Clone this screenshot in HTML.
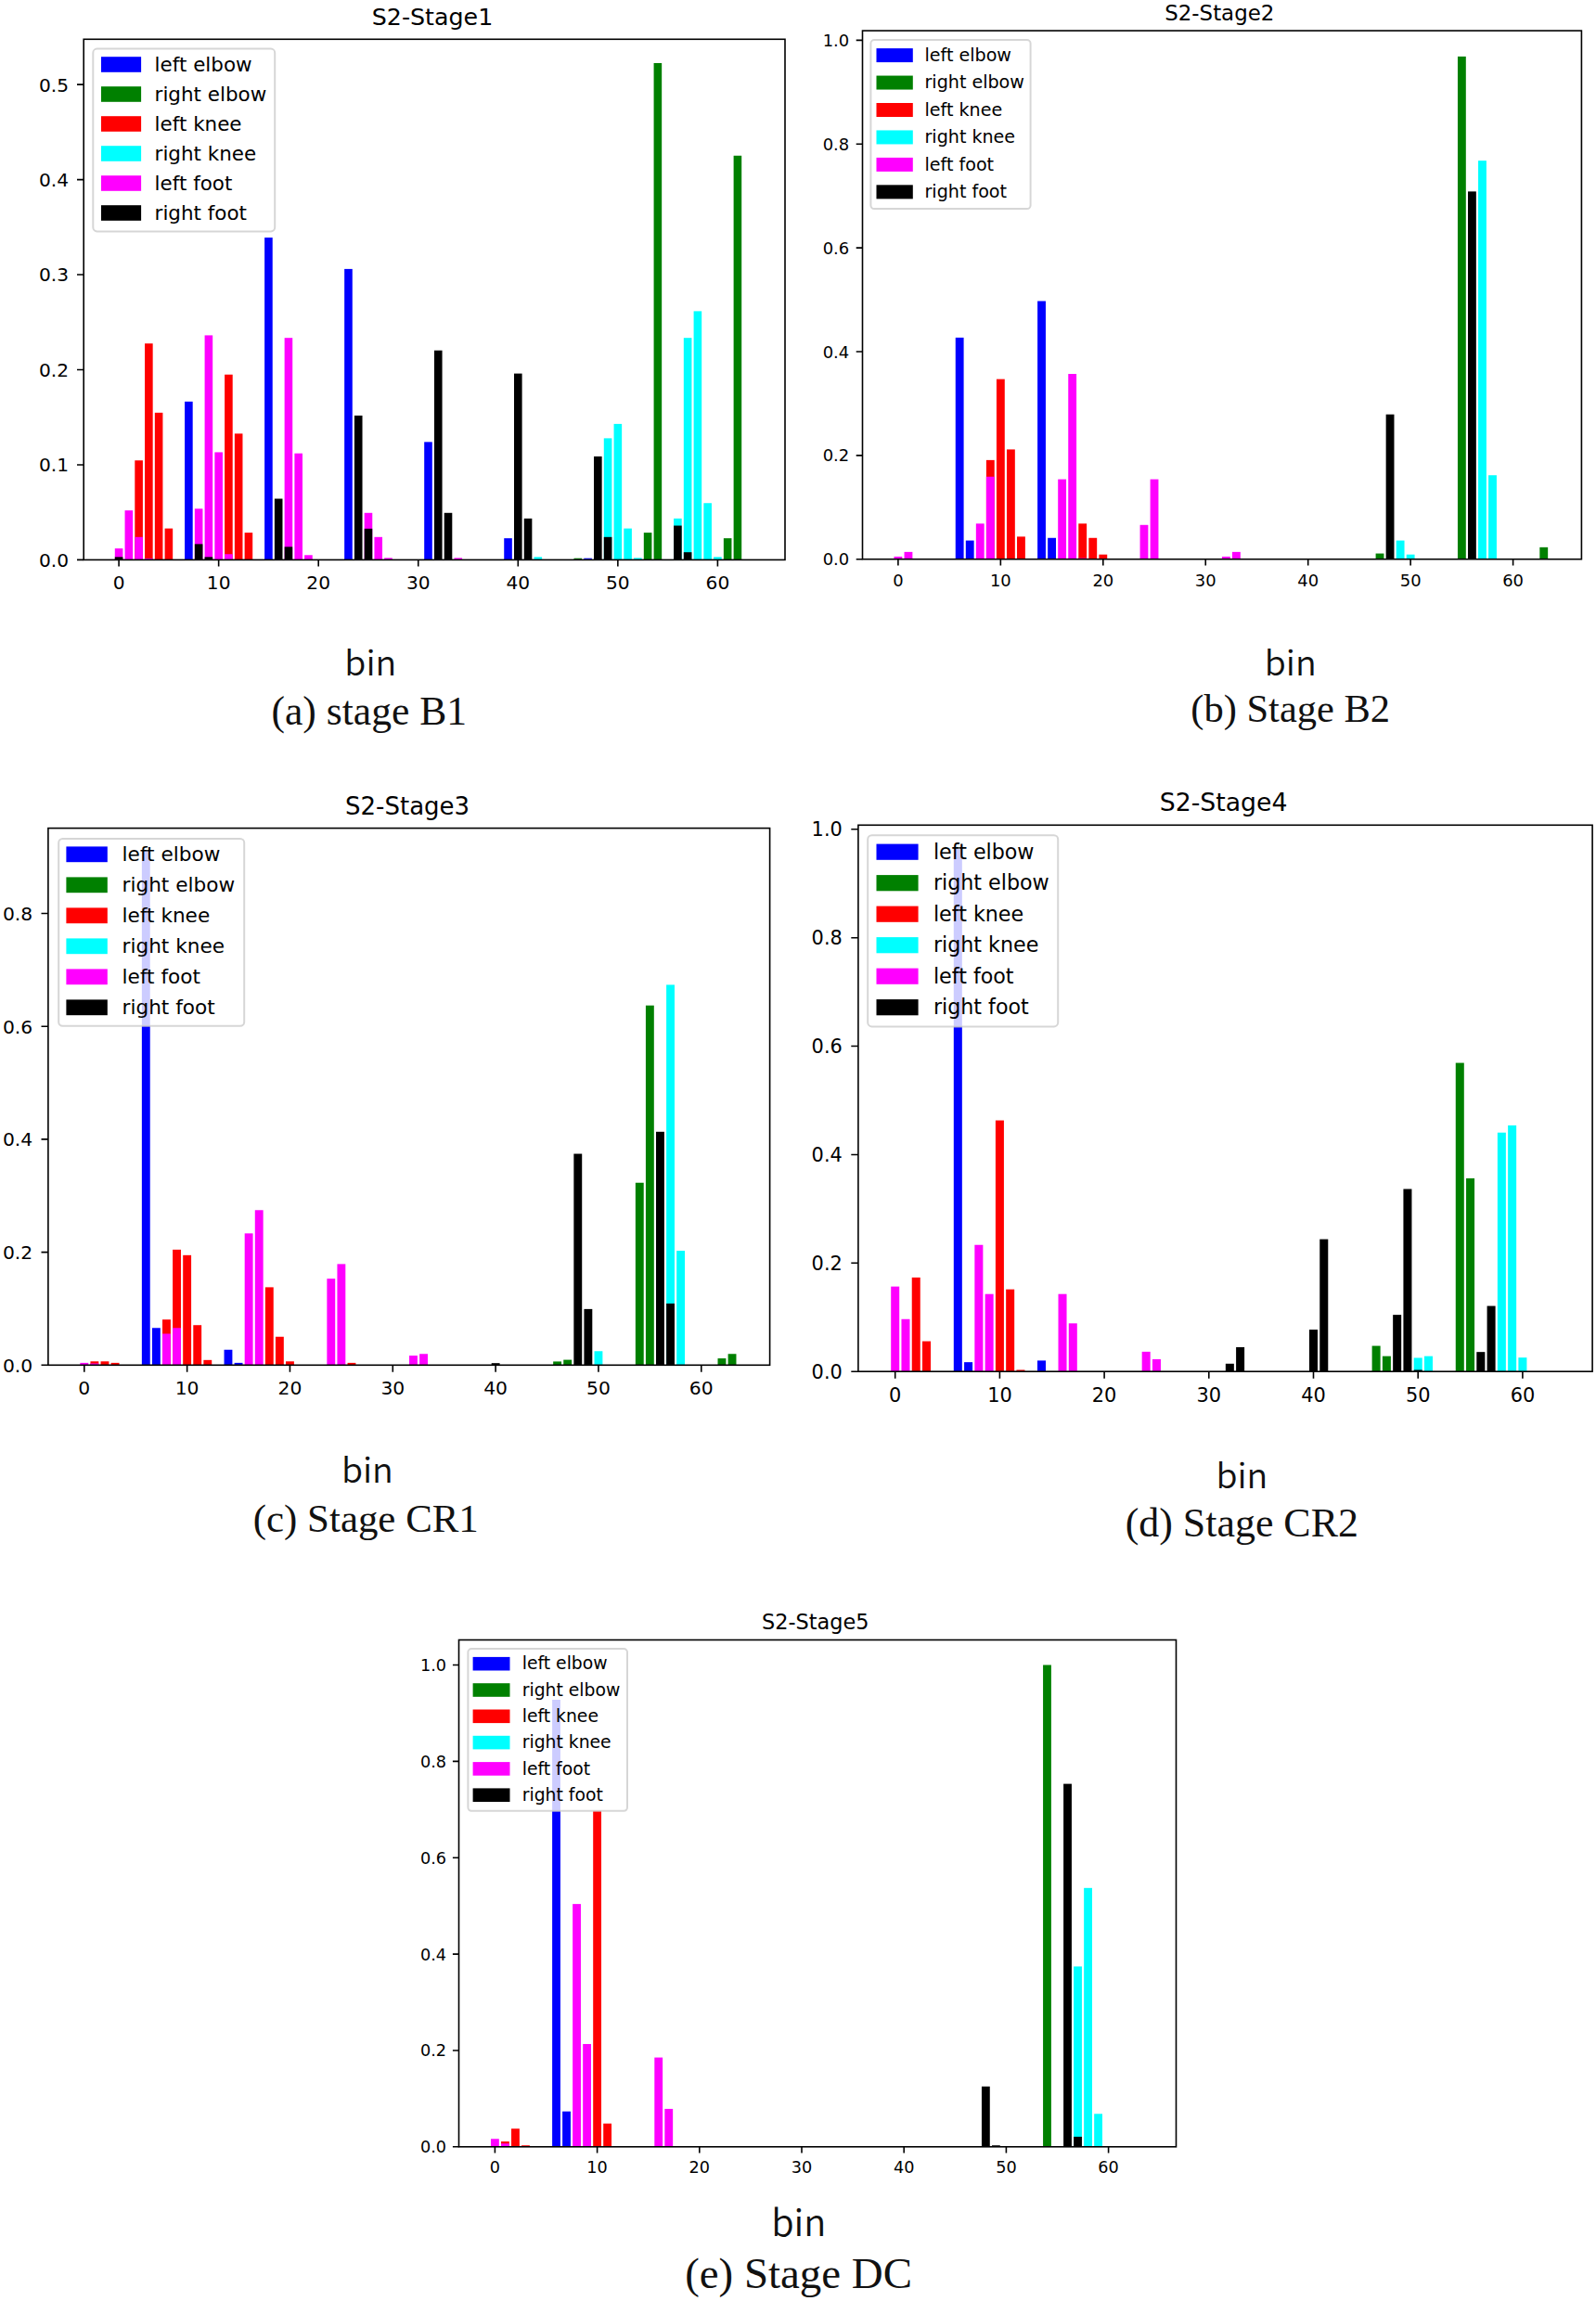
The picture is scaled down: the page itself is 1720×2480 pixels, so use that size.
<!DOCTYPE html>
<html lang="en">
<head>
<meta charset="utf-8">
<title>S2 stage histograms</title>
<style>
html,body{margin:0;padding:0;background:#fff;}
body{width:1720px;height:2480px;overflow:hidden;}
svg{display:block;}
</style>
</head>
<body>
<svg width="1720" height="2480" viewBox="0 0 1720 2480" shape-rendering="auto">
<rect x="0" y="0" width="1720" height="2480" fill="#ffffff"/>
<g id="chart1">
<g fill="#0000ff"><rect x="199.08" y="432.82" width="8.6" height="170.58"/><rect x="285.12" y="256.09" width="8.6" height="347.31"/><rect x="371.16" y="289.9" width="8.6" height="313.5"/><rect x="457.2" y="476.36" width="8.6" height="127.04"/><rect x="543.24" y="580.14" width="8.6" height="23.26"/><rect x="629.28" y="601.66" width="8.6" height="1.74"/></g>
<g fill="#008000"><rect x="618.53" y="601.66" width="8.6" height="1.74"/><rect x="693.81" y="574.1" width="8.6" height="29.3"/><rect x="704.57" y="68" width="8.6" height="535.4"/><rect x="779.85" y="580.14" width="8.6" height="23.26"/><rect x="790.61" y="167.78" width="8.6" height="435.62"/></g>
<g fill="#ff0000"><rect x="145.31" y="496.24" width="8.6" height="107.16"/><rect x="156.06" y="370.22" width="8.6" height="233.18"/><rect x="166.82" y="444.81" width="8.6" height="158.59"/><rect x="177.57" y="569.59" width="8.6" height="33.81"/><rect x="242.1" y="403.72" width="8.6" height="199.68"/><rect x="252.86" y="467.35" width="8.6" height="136.05"/><rect x="263.61" y="574.1" width="8.6" height="29.3"/></g>
<g fill="#00ffff"><rect x="575.51" y="600.33" width="8.6" height="3.07"/><rect x="650.79" y="472.37" width="8.6" height="131.03"/><rect x="661.55" y="456.9" width="8.6" height="146.5"/><rect x="672.3" y="569.59" width="8.6" height="33.81"/><rect x="683.06" y="601.35" width="8.6" height="2.05"/><rect x="726.08" y="558.83" width="8.6" height="44.57"/><rect x="736.83" y="364.18" width="8.6" height="239.22"/><rect x="747.59" y="335.39" width="8.6" height="268.01"/><rect x="758.34" y="542.24" width="8.6" height="61.16"/><rect x="769.1" y="600.33" width="8.6" height="3.07"/></g>
<g fill="#ff00ff"><rect x="123.8" y="591.11" width="8.6" height="12.29"/><rect x="134.55" y="550.13" width="8.6" height="53.27"/><rect x="145.31" y="578.81" width="8.6" height="24.59"/><rect x="156.06" y="601.86" width="8.6" height="1.54"/><rect x="209.84" y="548.28" width="8.6" height="55.12"/><rect x="220.59" y="361.41" width="8.6" height="241.99"/><rect x="231.35" y="487.43" width="8.6" height="115.97"/><rect x="242.1" y="597.25" width="8.6" height="6.15"/><rect x="306.63" y="364.18" width="8.6" height="239.22"/><rect x="317.39" y="488.66" width="8.6" height="114.74"/><rect x="328.14" y="598.28" width="8.6" height="5.12"/><rect x="392.67" y="552.79" width="8.6" height="50.61"/><rect x="403.43" y="578.81" width="8.6" height="24.59"/><rect x="414.18" y="601.35" width="8.6" height="2.05"/><rect x="489.47" y="601.35" width="8.6" height="2.05"/></g>
<g fill="#000000"><rect x="123.8" y="600.33" width="8.6" height="3.07"/><rect x="209.84" y="586.39" width="8.6" height="17.01"/><rect x="220.59" y="600.33" width="8.6" height="3.07"/><rect x="295.88" y="537.52" width="8.6" height="65.88"/><rect x="306.63" y="589.36" width="8.6" height="14.04"/><rect x="381.92" y="447.88" width="8.6" height="155.52"/><rect x="392.67" y="569.8" width="8.6" height="33.6"/><rect x="467.96" y="377.7" width="8.6" height="225.7"/><rect x="478.71" y="552.79" width="8.6" height="50.61"/><rect x="554" y="402.6" width="8.6" height="200.8"/><rect x="564.75" y="558.83" width="8.6" height="44.57"/><rect x="640.04" y="491.93" width="8.6" height="111.47"/><rect x="650.79" y="578.81" width="8.6" height="24.59"/><rect x="726.08" y="566.52" width="8.6" height="36.88"/><rect x="736.83" y="595.2" width="8.6" height="8.2"/></g>
<rect x="90.2" y="42.3" width="755.8" height="561.1" fill="none" stroke="#000" stroke-width="1.6"/>
<path d="M128.1 603.4v7.2M235.65 603.4v7.2M343.2 603.4v7.2M450.75 603.4v7.2M558.3 603.4v7.2M665.85 603.4v7.2M773.4 603.4v7.2M90.2 603.4h-7.2M90.2 500.95h-7.2M90.2 398.5h-7.2M90.2 296.05h-7.2M90.2 193.6h-7.2M90.2 91.15h-7.2" stroke="#000" stroke-width="1.6" fill="none"/>
<g font-family='"DejaVu Sans", "Liberation Sans", sans-serif' font-size="20.16" fill="#000">
<text x="128.1" y="634.6" text-anchor="middle">0</text>
<text x="235.65" y="634.6" text-anchor="middle">10</text>
<text x="343.2" y="634.6" text-anchor="middle">20</text>
<text x="450.75" y="634.6" text-anchor="middle">30</text>
<text x="558.3" y="634.6" text-anchor="middle">40</text>
<text x="665.85" y="634.6" text-anchor="middle">50</text>
<text x="773.4" y="634.6" text-anchor="middle">60</text>
<text x="74.1" y="610.76" text-anchor="end">0.0</text>
<text x="74.1" y="508.31" text-anchor="end">0.1</text>
<text x="74.1" y="405.86" text-anchor="end">0.2</text>
<text x="74.1" y="303.41" text-anchor="end">0.3</text>
<text x="74.1" y="200.96" text-anchor="end">0.4</text>
<text x="74.1" y="98.51" text-anchor="end">0.5</text>
</g>
<text x="466" y="27" text-anchor="middle" font-family='"DejaVu Sans", "Liberation Sans", sans-serif' font-size="25.3" fill="#000">S2-Stage1</text>
<rect x="100.3" y="52.6" width="195.9" height="196.8" rx="4.29" ry="4.29" fill="#ffffff" fill-opacity="0.8" stroke="#cccccc" stroke-opacity="0.8" stroke-width="2"/>
<rect x="109" y="61.2" width="43.1" height="16.6" fill="#0000ff"/>
<rect x="109" y="93.2" width="43.1" height="16.6" fill="#008000"/>
<rect x="109" y="125.2" width="43.1" height="16.6" fill="#ff0000"/>
<rect x="109" y="157.2" width="43.1" height="16.6" fill="#00ffff"/>
<rect x="109" y="189.2" width="43.1" height="16.6" fill="#ff00ff"/>
<rect x="109" y="221.2" width="43.1" height="16.6" fill="#000000"/>
<g font-family='"DejaVu Sans", "Liberation Sans", sans-serif' font-size="21.45" fill="#000">
<text x="166.6" y="76.58">left elbow</text>
<text x="166.6" y="108.58">right elbow</text>
<text x="166.6" y="140.58">left knee</text>
<text x="166.6" y="172.58">right knee</text>
<text x="166.6" y="204.58">left foot</text>
<text x="166.6" y="236.58">right foot</text>
</g>
<text x="399.3" y="728.3" text-anchor="middle" font-family='"Noto Sans CJK SC", "Liberation Sans", "DejaVu Sans", sans-serif' font-size="37.6" font-weight="350" fill="#111">bin</text>
<text x="397.8" y="781" text-anchor="middle" font-family='"Liberation Serif", "DejaVu Serif", serif' font-size="43.6" fill="#111">(a) stage B1</text>
</g>
<g id="chart2">
<g fill="#0000ff"><rect x="1029.75" y="363.88" width="8.84" height="238.82"/><rect x="1040.8" y="582.57" width="8.84" height="20.13"/><rect x="1118.11" y="324.5" width="8.84" height="278.2"/><rect x="1129.16" y="579.77" width="8.84" height="22.93"/></g>
<g fill="#008000"><rect x="1482.6" y="596.55" width="8.84" height="6.15"/><rect x="1570.96" y="60.91" width="8.84" height="541.79"/><rect x="1659.32" y="589.84" width="8.84" height="12.86"/></g>
<g fill="#ff0000"><rect x="1062.89" y="495.87" width="8.84" height="106.83"/><rect x="1073.93" y="408.62" width="8.84" height="194.08"/><rect x="1084.98" y="484.41" width="8.84" height="118.29"/><rect x="1096.02" y="578.37" width="8.84" height="24.33"/><rect x="1162.29" y="564.33" width="8.84" height="38.37"/><rect x="1173.34" y="579.77" width="8.84" height="22.93"/><rect x="1184.38" y="597.67" width="8.84" height="5.03"/></g>
<g fill="#00ffff"><rect x="1504.69" y="582.57" width="8.84" height="20.13"/><rect x="1515.73" y="597.67" width="8.84" height="5.03"/><rect x="1593.05" y="173.16" width="8.84" height="429.54"/><rect x="1604.09" y="512.21" width="8.84" height="90.49"/></g>
<g fill="#ff00ff"><rect x="963.48" y="599.9" width="8.84" height="2.8"/><rect x="974.53" y="594.87" width="8.84" height="7.83"/><rect x="1051.84" y="564.33" width="8.84" height="38.37"/><rect x="1062.89" y="513.77" width="8.84" height="88.93"/><rect x="1140.2" y="516.57" width="8.84" height="86.13"/><rect x="1151.25" y="403.03" width="8.84" height="199.67"/><rect x="1162.29" y="601.58" width="8.84" height="1.12"/><rect x="1228.56" y="565.79" width="8.84" height="36.91"/><rect x="1239.61" y="516.57" width="8.84" height="86.13"/><rect x="1316.92" y="599.9" width="8.84" height="2.8"/><rect x="1327.97" y="594.87" width="8.84" height="7.83"/></g>
<g fill="#000000"><rect x="1493.64" y="446.66" width="8.84" height="156.04"/><rect x="1582" y="206.38" width="8.84" height="396.32"/></g>
<rect x="929.5" y="33.1" width="774.9" height="569.6" fill="none" stroke="#000" stroke-width="1.6"/>
<path d="M967.9 602.7v6.8M1078.35 602.7v6.8M1188.8 602.7v6.8M1299.25 602.7v6.8M1409.7 602.7v6.8M1520.15 602.7v6.8M1630.6 602.7v6.8M929.5 602.7h-6.8M929.5 490.84h-6.8M929.5 378.98h-6.8M929.5 267.12h-6.8M929.5 155.26h-6.8M929.5 43.4h-6.8" stroke="#000" stroke-width="1.6" fill="none"/>
<g font-family='"DejaVu Sans", "Liberation Sans", sans-serif' font-size="17.95" fill="#000">
<text x="967.9" y="631.5" text-anchor="middle">0</text>
<text x="1078.35" y="631.5" text-anchor="middle">10</text>
<text x="1188.8" y="631.5" text-anchor="middle">20</text>
<text x="1299.25" y="631.5" text-anchor="middle">30</text>
<text x="1409.7" y="631.5" text-anchor="middle">40</text>
<text x="1520.15" y="631.5" text-anchor="middle">50</text>
<text x="1630.6" y="631.5" text-anchor="middle">60</text>
<text x="915.2" y="609.25" text-anchor="end">0.0</text>
<text x="915.2" y="497.39" text-anchor="end">0.2</text>
<text x="915.2" y="385.53" text-anchor="end">0.4</text>
<text x="915.2" y="273.67" text-anchor="end">0.6</text>
<text x="915.2" y="161.81" text-anchor="end">0.8</text>
<text x="915.2" y="49.95" text-anchor="end">1.0</text>
</g>
<text x="1314.3" y="22" text-anchor="middle" font-family='"DejaVu Sans", "Liberation Sans", sans-serif' font-size="22.9" fill="#000">S2-Stage2</text>
<rect x="938.4" y="43.1" width="172.2" height="182" rx="3.82" ry="3.82" fill="#ffffff" fill-opacity="0.8" stroke="#cccccc" stroke-opacity="0.8" stroke-width="2"/>
<rect x="944.5" y="52.1" width="39.3" height="15" fill="#0000ff"/>
<rect x="944.5" y="81.55" width="39.3" height="15" fill="#008000"/>
<rect x="944.5" y="111" width="39.3" height="15" fill="#ff0000"/>
<rect x="944.5" y="140.45" width="39.3" height="15" fill="#00ffff"/>
<rect x="944.5" y="169.9" width="39.3" height="15" fill="#ff00ff"/>
<rect x="944.5" y="199.35" width="39.3" height="15" fill="#000000"/>
<g font-family='"DejaVu Sans", "Liberation Sans", sans-serif' font-size="19.1" fill="#000">
<text x="996.5" y="65.9">left elbow</text>
<text x="996.5" y="95.35">right elbow</text>
<text x="996.5" y="124.8">left knee</text>
<text x="996.5" y="154.25">right knee</text>
<text x="996.5" y="183.7">left foot</text>
<text x="996.5" y="213.15">right foot</text>
</g>
<text x="1390.7" y="727.8" text-anchor="middle" font-family='"Noto Sans CJK SC", "Liberation Sans", "DejaVu Sans", sans-serif' font-size="37.6" font-weight="350" fill="#111">bin</text>
<text x="1390.7" y="778.4" text-anchor="middle" font-family='"Liberation Serif", "DejaVu Serif", serif' font-size="42.5" fill="#111">(b) Stage B2</text>
</g>
<g id="chart3">
<g fill="#0000ff"><rect x="152.86" y="916.35" width="8.87" height="554.95"/><rect x="163.95" y="1431.26" width="8.87" height="40.04"/><rect x="241.53" y="1454.75" width="8.87" height="16.55"/><rect x="252.61" y="1468.87" width="8.87" height="2.43"/></g>
<g fill="#008000"><rect x="596.18" y="1467.41" width="8.87" height="3.89"/><rect x="607.27" y="1465.58" width="8.87" height="5.72"/><rect x="684.85" y="1274.75" width="8.87" height="196.55"/><rect x="695.93" y="1083.69" width="8.87" height="387.61"/><rect x="773.51" y="1464.06" width="8.87" height="7.24"/><rect x="784.6" y="1459.25" width="8.87" height="12.05"/></g>
<g fill="#ff0000"><rect x="97.45" y="1467.28" width="8.87" height="4.02"/><rect x="108.53" y="1467.28" width="8.87" height="4.02"/><rect x="119.62" y="1468.87" width="8.87" height="2.43"/><rect x="175.03" y="1422.19" width="8.87" height="49.11"/><rect x="186.11" y="1346.86" width="8.87" height="124.44"/><rect x="197.2" y="1352.83" width="8.87" height="118.47"/><rect x="208.28" y="1428.22" width="8.87" height="43.08"/><rect x="219.36" y="1465.82" width="8.87" height="5.48"/><rect x="285.86" y="1387.39" width="8.87" height="83.91"/><rect x="296.94" y="1440.75" width="8.87" height="30.55"/><rect x="308.03" y="1467.28" width="8.87" height="4.02"/><rect x="374.52" y="1468.87" width="8.87" height="2.43"/></g>
<g fill="#00ffff"><rect x="640.52" y="1456.27" width="8.87" height="15.03"/><rect x="718.1" y="1061.41" width="8.87" height="409.89"/><rect x="729.18" y="1348.08" width="8.87" height="123.22"/></g>
<g fill="#ff00ff"><rect x="86.37" y="1468.87" width="8.87" height="2.43"/><rect x="97.45" y="1469.47" width="8.87" height="1.83"/><rect x="175.03" y="1437.47" width="8.87" height="33.83"/><rect x="186.11" y="1431.26" width="8.87" height="40.04"/><rect x="263.69" y="1329.34" width="8.87" height="141.96"/><rect x="274.78" y="1304.27" width="8.87" height="167.03"/><rect x="352.36" y="1378.14" width="8.87" height="93.16"/><rect x="363.44" y="1362.38" width="8.87" height="108.92"/><rect x="441.02" y="1461.08" width="8.87" height="10.22"/><rect x="452.11" y="1459.25" width="8.87" height="12.05"/></g>
<g fill="#000000"><rect x="529.69" y="1469.17" width="8.87" height="2.13"/><rect x="618.35" y="1243.54" width="8.87" height="227.76"/><rect x="629.43" y="1410.88" width="8.87" height="60.42"/><rect x="707.01" y="1219.81" width="8.87" height="251.49"/><rect x="718.1" y="1404.91" width="8.87" height="66.39"/></g>
<rect x="51.9" y="892.6" width="777.7" height="578.7" fill="none" stroke="#000" stroke-width="1.6"/>
<path d="M90.8 1471.3v7.4M201.63 1471.3v7.4M312.46 1471.3v7.4M423.29 1471.3v7.4M534.12 1471.3v7.4M644.95 1471.3v7.4M755.78 1471.3v7.4M51.9 1471.3h-7.4M51.9 1349.6h-7.4M51.9 1227.9h-7.4M51.9 1106.2h-7.4M51.9 984.5h-7.4" stroke="#000" stroke-width="1.6" fill="none"/>
<g font-family='"DejaVu Sans", "Liberation Sans", sans-serif' font-size="20.3" fill="#000">
<text x="90.8" y="1503.1" text-anchor="middle">0</text>
<text x="201.63" y="1503.1" text-anchor="middle">10</text>
<text x="312.46" y="1503.1" text-anchor="middle">20</text>
<text x="423.29" y="1503.1" text-anchor="middle">30</text>
<text x="534.12" y="1503.1" text-anchor="middle">40</text>
<text x="644.95" y="1503.1" text-anchor="middle">50</text>
<text x="755.78" y="1503.1" text-anchor="middle">60</text>
<text x="35.2" y="1478.71" text-anchor="end">0.0</text>
<text x="35.2" y="1357.01" text-anchor="end">0.2</text>
<text x="35.2" y="1235.31" text-anchor="end">0.4</text>
<text x="35.2" y="1113.61" text-anchor="end">0.6</text>
<text x="35.2" y="991.91" text-anchor="end">0.8</text>
</g>
<text x="439.1" y="877.6" text-anchor="middle" font-family='"DejaVu Sans", "Liberation Sans", sans-serif' font-size="26" fill="#000">S2-Stage3</text>
<rect x="63.2" y="903.9" width="200" height="201.8" rx="4.32" ry="4.32" fill="#ffffff" fill-opacity="0.8" stroke="#cccccc" stroke-opacity="0.8" stroke-width="2"/>
<rect x="71.4" y="912.4" width="44.4" height="16.8" fill="#0000ff"/>
<rect x="71.4" y="945.4" width="44.4" height="16.8" fill="#008000"/>
<rect x="71.4" y="978.4" width="44.4" height="16.8" fill="#ff0000"/>
<rect x="71.4" y="1011.4" width="44.4" height="16.8" fill="#00ffff"/>
<rect x="71.4" y="1044.4" width="44.4" height="16.8" fill="#ff00ff"/>
<rect x="71.4" y="1077.4" width="44.4" height="16.8" fill="#000000"/>
<g font-family='"DejaVu Sans", "Liberation Sans", sans-serif' font-size="21.6" fill="#000">
<text x="131.6" y="927.93">left elbow</text>
<text x="131.6" y="960.93">right elbow</text>
<text x="131.6" y="993.93">left knee</text>
<text x="131.6" y="1026.93">right knee</text>
<text x="131.6" y="1059.93">left foot</text>
<text x="131.6" y="1092.93">right foot</text>
</g>
<text x="395.9" y="1597.8" text-anchor="middle" font-family='"Noto Sans CJK SC", "Liberation Sans", "DejaVu Sans", sans-serif' font-size="37.6" font-weight="350" fill="#111">bin</text>
<text x="394.3" y="1650.5" text-anchor="middle" font-family='"Liberation Serif", "DejaVu Serif", serif' font-size="42.9" fill="#111">(c) Stage CR1</text>
</g>
<g id="chart4">
<g fill="#0000ff"><rect x="1027.81" y="915.13" width="9.02" height="563.07"/><rect x="1039.08" y="1468.15" width="9.02" height="10.05"/><rect x="1117.97" y="1466.4" width="9.02" height="11.8"/></g>
<g fill="#008000"><rect x="1478.61" y="1450.56" width="9.02" height="27.64"/><rect x="1489.88" y="1461.66" width="9.02" height="16.54"/><rect x="1568.77" y="1145.56" width="9.02" height="332.64"/><rect x="1580.04" y="1270.04" width="9.02" height="208.16"/></g>
<g fill="#ff0000"><rect x="982.73" y="1376.87" width="9.02" height="101.33"/><rect x="994" y="1445.59" width="9.02" height="32.61"/><rect x="1072.89" y="1207.56" width="9.02" height="270.64"/><rect x="1084.16" y="1389.66" width="9.02" height="88.54"/><rect x="1095.43" y="1476.45" width="9.02" height="1.75"/></g>
<g fill="#00ffff"><rect x="1523.69" y="1463.47" width="9.02" height="14.73"/><rect x="1534.96" y="1461.66" width="9.02" height="16.54"/><rect x="1613.85" y="1220.71" width="9.02" height="257.49"/><rect x="1625.12" y="1212.94" width="9.02" height="265.26"/><rect x="1636.39" y="1463.18" width="9.02" height="15.02"/></g>
<g fill="#ff00ff"><rect x="960.19" y="1386.62" width="9.02" height="91.58"/><rect x="971.46" y="1421.75" width="9.02" height="56.45"/><rect x="1050.35" y="1341.74" width="9.02" height="136.46"/><rect x="1061.62" y="1394.69" width="9.02" height="83.51"/><rect x="1140.51" y="1394.69" width="9.02" height="83.51"/><rect x="1151.78" y="1426.31" width="9.02" height="51.89"/><rect x="1230.67" y="1456.87" width="9.02" height="21.33"/><rect x="1241.94" y="1464.93" width="9.02" height="13.27"/></g>
<g fill="#000000"><rect x="1320.83" y="1469.78" width="9.02" height="8.42"/><rect x="1332.1" y="1452.02" width="9.02" height="26.18"/><rect x="1410.99" y="1433.08" width="9.02" height="45.12"/><rect x="1422.26" y="1335.61" width="9.02" height="142.59"/><rect x="1501.15" y="1417.13" width="9.02" height="61.07"/><rect x="1512.42" y="1281.49" width="9.02" height="196.71"/><rect x="1523.69" y="1476.45" width="9.02" height="1.75"/><rect x="1591.31" y="1457.16" width="9.02" height="21.04"/><rect x="1602.58" y="1407.55" width="9.02" height="70.65"/></g>
<rect x="924.9" y="889.3" width="791.2" height="588.9" fill="none" stroke="#000" stroke-width="1.6"/>
<path d="M964.7 1478.2v7.6M1077.4 1478.2v7.6M1190.1 1478.2v7.6M1302.8 1478.2v7.6M1415.5 1478.2v7.6M1528.2 1478.2v7.6M1640.9 1478.2v7.6M924.9 1478.2h-7.6M924.9 1361.32h-7.6M924.9 1244.44h-7.6M924.9 1127.56h-7.6M924.9 1010.68h-7.6M924.9 893.8h-7.6" stroke="#000" stroke-width="1.6" fill="none"/>
<g font-family='"DejaVu Sans", "Liberation Sans", sans-serif' font-size="20.87" fill="#000">
<text x="964.7" y="1510.9" text-anchor="middle">0</text>
<text x="1077.4" y="1510.9" text-anchor="middle">10</text>
<text x="1190.1" y="1510.9" text-anchor="middle">20</text>
<text x="1302.8" y="1510.9" text-anchor="middle">30</text>
<text x="1415.5" y="1510.9" text-anchor="middle">40</text>
<text x="1528.2" y="1510.9" text-anchor="middle">50</text>
<text x="1640.9" y="1510.9" text-anchor="middle">60</text>
<text x="907.8" y="1485.82" text-anchor="end">0.0</text>
<text x="907.8" y="1368.94" text-anchor="end">0.2</text>
<text x="907.8" y="1252.06" text-anchor="end">0.4</text>
<text x="907.8" y="1135.18" text-anchor="end">0.6</text>
<text x="907.8" y="1018.3" text-anchor="end">0.8</text>
<text x="907.8" y="901.42" text-anchor="end">1.0</text>
</g>
<text x="1318.6" y="874" text-anchor="middle" font-family='"DejaVu Sans", "Liberation Sans", sans-serif' font-size="26.7" fill="#000">S2-Stage4</text>
<rect x="935.2" y="900.2" width="205" height="206.2" rx="4.44" ry="4.44" fill="#ffffff" fill-opacity="0.8" stroke="#cccccc" stroke-opacity="0.8" stroke-width="2"/>
<rect x="944.5" y="909.6" width="45.1" height="17.2" fill="#0000ff"/>
<rect x="944.5" y="943.1" width="45.1" height="17.2" fill="#008000"/>
<rect x="944.5" y="976.6" width="45.1" height="17.2" fill="#ff0000"/>
<rect x="944.5" y="1010.1" width="45.1" height="17.2" fill="#00ffff"/>
<rect x="944.5" y="1043.6" width="45.1" height="17.2" fill="#ff00ff"/>
<rect x="944.5" y="1077.1" width="45.1" height="17.2" fill="#000000"/>
<g font-family='"DejaVu Sans", "Liberation Sans", sans-serif' font-size="22.2" fill="#000">
<text x="1005.9" y="925.53">left elbow</text>
<text x="1005.9" y="959.03">right elbow</text>
<text x="1005.9" y="992.53">left knee</text>
<text x="1005.9" y="1026.03">right knee</text>
<text x="1005.9" y="1059.53">left foot</text>
<text x="1005.9" y="1093.03">right foot</text>
</g>
<text x="1338.4" y="1603.6" text-anchor="middle" font-family='"Noto Sans CJK SC", "Liberation Sans", "DejaVu Sans", sans-serif' font-size="37.6" font-weight="350" fill="#111">bin</text>
<text x="1338.3" y="1655.5" text-anchor="middle" font-family='"Liberation Serif", "DejaVu Serif", serif' font-size="43.9" fill="#111">(d) Stage CR2</text>
</g>
<g id="chart5">
<g fill="#0000ff"><rect x="595.11" y="1831.99" width="8.82" height="481.81"/><rect x="606.13" y="2275.68" width="8.82" height="38.12"/></g>
<g fill="#008000"><rect x="1124.07" y="1794.5" width="8.82" height="519.3"/></g>
<g fill="#ff0000"><rect x="540.01" y="2308.09" width="8.82" height="5.71"/><rect x="551.03" y="2294.27" width="8.82" height="19.53"/><rect x="562.05" y="2312.24" width="8.82" height="1.56"/><rect x="639.19" y="1951.54" width="8.82" height="362.26"/><rect x="650.21" y="2288.72" width="8.82" height="25.08"/></g>
<g fill="#00ffff"><rect x="1157.13" y="2119.43" width="8.82" height="194.37"/><rect x="1168.15" y="2034.83" width="8.82" height="278.97"/><rect x="1179.17" y="2278.28" width="8.82" height="35.52"/></g>
<g fill="#ff00ff"><rect x="528.99" y="2305.28" width="8.82" height="8.52"/><rect x="540.01" y="2310.27" width="8.82" height="3.53"/><rect x="617.15" y="2052.12" width="8.82" height="261.68"/><rect x="628.17" y="2203.03" width="8.82" height="110.77"/><rect x="705.31" y="2217.57" width="8.82" height="96.23"/><rect x="716.33" y="2272.93" width="8.82" height="40.87"/></g>
<g fill="#000000"><rect x="1057.95" y="2248.78" width="8.82" height="65.02"/><rect x="1068.97" y="2312.24" width="8.82" height="1.56"/><rect x="1146.11" y="1922.61" width="8.82" height="391.19"/><rect x="1157.13" y="2302.95" width="8.82" height="10.85"/></g>
<rect x="494.5" y="1767.5" width="773" height="546.3" fill="none" stroke="#000" stroke-width="1.6"/>
<path d="M533.4 2313.8v6.6M643.6 2313.8v6.6M753.8 2313.8v6.6M864 2313.8v6.6M974.2 2313.8v6.6M1084.4 2313.8v6.6M1194.6 2313.8v6.6M494.5 2313.8h-6.6M494.5 2209.94h-6.6M494.5 2106.08h-6.6M494.5 2002.22h-6.6M494.5 1898.36h-6.6M494.5 1794.5h-6.6" stroke="#000" stroke-width="1.6" fill="none"/>
<g font-family='"DejaVu Sans", "Liberation Sans", sans-serif' font-size="17.67" fill="#000">
<text x="533.4" y="2341.9" text-anchor="middle">0</text>
<text x="643.6" y="2341.9" text-anchor="middle">10</text>
<text x="753.8" y="2341.9" text-anchor="middle">20</text>
<text x="864" y="2341.9" text-anchor="middle">30</text>
<text x="974.2" y="2341.9" text-anchor="middle">40</text>
<text x="1084.4" y="2341.9" text-anchor="middle">50</text>
<text x="1194.6" y="2341.9" text-anchor="middle">60</text>
<text x="481" y="2320.25" text-anchor="end">0.0</text>
<text x="481" y="2216.39" text-anchor="end">0.2</text>
<text x="481" y="2112.53" text-anchor="end">0.4</text>
<text x="481" y="2008.67" text-anchor="end">0.6</text>
<text x="481" y="1904.81" text-anchor="end">0.8</text>
<text x="481" y="1800.95" text-anchor="end">1.0</text>
</g>
<text x="878.8" y="1755.6" text-anchor="middle" font-family='"DejaVu Sans", "Liberation Sans", sans-serif' font-size="22.4" fill="#000">S2-Stage5</text>
<rect x="504.4" y="1777.1" width="171.6" height="174.7" rx="3.76" ry="3.76" fill="#ffffff" fill-opacity="0.8" stroke="#cccccc" stroke-opacity="0.8" stroke-width="2"/>
<rect x="509.6" y="1785.9" width="39.9" height="14.6" fill="#0000ff"/>
<rect x="509.6" y="1814.2" width="39.9" height="14.6" fill="#008000"/>
<rect x="509.6" y="1842.5" width="39.9" height="14.6" fill="#ff0000"/>
<rect x="509.6" y="1870.8" width="39.9" height="14.6" fill="#00ffff"/>
<rect x="509.6" y="1899.1" width="39.9" height="14.6" fill="#ff00ff"/>
<rect x="509.6" y="1927.4" width="39.9" height="14.6" fill="#000000"/>
<g font-family='"DejaVu Sans", "Liberation Sans", sans-serif' font-size="18.8" fill="#000">
<text x="562.7" y="1799.4">left elbow</text>
<text x="562.7" y="1827.7">right elbow</text>
<text x="562.7" y="1856">left knee</text>
<text x="562.7" y="1884.3">right knee</text>
<text x="562.7" y="1912.6">left foot</text>
<text x="562.7" y="1940.9">right foot</text>
</g>
<text x="860.75" y="2410.3" text-anchor="middle" font-family='"Noto Sans CJK SC", "Liberation Sans", "DejaVu Sans", sans-serif' font-size="39.8" font-weight="350" fill="#111">bin</text>
<text x="860.6" y="2466.4" text-anchor="middle" font-family='"Liberation Serif", "DejaVu Serif", serif' font-size="46.9" fill="#111">(e) Stage DC</text>
</g>
</svg>
</body>
</html>
